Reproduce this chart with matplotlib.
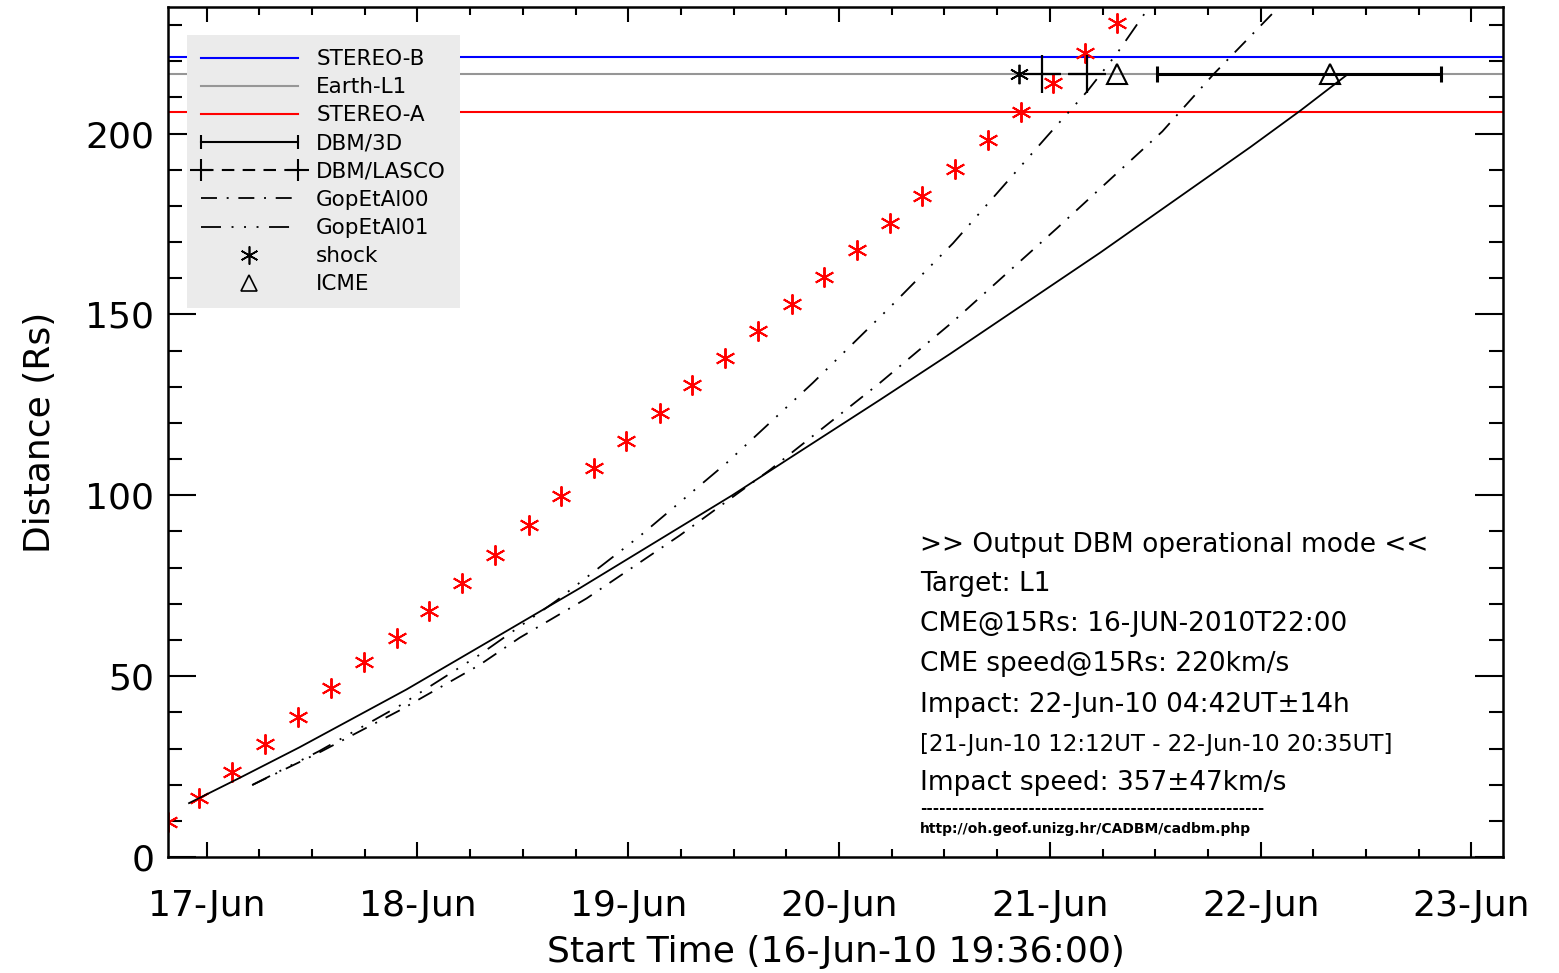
import numpy as np
import matplotlib
matplotlib.use('Agg')
import matplotlib.pyplot as plt
import matplotlib.dates as mdates
from matplotlib.ticker import MultipleLocator
from matplotlib.lines import Line2D
from matplotlib.legend_handler import HandlerLine2D
from datetime import datetime

plt.rcParams['font.family'] = ['DejaVu Sans']
plt.rcParams['lines.scale_dashes'] = False

# start time of the plot
t0 = mdates.date2num(datetime(2010, 6, 16, 19, 36))
def tt(h):
    return t0 + np.asarray(h, dtype=float) / 24.0

# target distances (Rs)
r_stb = 221.2
r_l1 = 216.4
r_sta = 205.9

# measured CME front (hours after start, Rs)
obs_h = [0.0, 3.53, 7.33, 11.02, 14.82, 18.55, 22.27, 26.03, 29.76, 33.48,
         37.25, 41.04, 44.77, 48.49, 52.18, 55.98, 59.71, 63.47, 67.19, 70.99,
         74.68, 78.41, 82.15, 85.89, 89.61, 93.34, 97.10, 100.79, 104.43, 108.05]
obs_r = [9.8, 16.2, 23.6, 31.2, 38.7, 46.8, 53.9, 60.5, 68.1, 75.7,
         83.5, 91.8, 99.7, 107.5, 114.9, 122.7, 130.4, 138.0, 145.3, 152.9,
         160.4, 167.7, 175.2, 182.7, 190.3, 198.1, 205.9, 214.0, 222.3, 230.6]

# DBM solution
dbm_h = [2.39, 8.09, 14.94, 27.13, 36.94, 46.86, 64.30, 70.46, 81.06, 89.04,
         106.14, 123.25, 128.95, 134.31]
dbm_r = [14.9, 21.8, 30.3, 46.3, 60.2, 74.3, 100.1, 109.8, 126.4, 139.1,
         167.1, 196.3, 206.4, 216.4]

# Gopalswamy et al. 2000
g00_h = [9.58, 17.22, 26.34, 35.46, 40.02, 47.66, 58.26, 68.52, 81.06, 89.27,
         101.24, 113.21, 119.03, 126.67]
g00_r = [19.9, 28.9, 40.5, 53.1, 60.6, 71.5, 88.9, 107.0, 131.1, 147.8,
         173.9, 200.6, 216.4, 235.5]

# Gopalswamy et al. 2001
g01_h = [9.58, 17.22, 26.34, 35.46, 44.24, 53.70, 63.62, 73.42, 82.20, 89.38,
         100.10, 104.66, 108.08, 111.85]
g01_r = [19.9, 29.3, 41.8, 55.9, 70.9, 88.7, 109.0, 131.1, 152.0, 169.7,
         199.3, 211.7, 222.3, 235.5]

# arrivals at L1
shock_h = [96.91]
icme_h = [108.05, 132.29]
lasco_h = [99.53, 104.66]
impact_h = 129.1        # 22-Jun-10 04:42
impact_lo = 112.6       # 21-Jun-10 12:12
impact_hi = 144.98      # 22-Jun-10 20:35

fig = plt.figure(figsize=(15.59, 9.73), dpi=100)
ax = fig.add_axes([0.1078, 0.1192, 0.8563, 0.8736])

ax.axhline(r_stb, color='#0000ff', lw=1.5)
ax.axhline(r_l1, color='#969696', lw=1.5)
ax.axhline(r_sta, color='#ff0000', lw=1.5)

ast = (6, 2, 0)
ax.plot(tt(obs_h), obs_r, ls='none', marker=ast, ms=14.5, mew=1.4, color='#ff0000')

ax.plot(tt(dbm_h), dbm_r, color='k', lw=1.3)
dd1 = (0, (11.5, 7.0, 1.4, 7.0))
dd3 = (0, (14.4, 7.6, 1.4, 7.6, 1.4, 7.6, 1.4, 7.6))
ax.plot(tt(g00_h), g00_r, color='k', lw=1.3, ls=dd1)
ax.plot(tt(g01_h), g01_r, color='k', lw=1.3, ls=dd3)

ax.errorbar(tt([impact_h]), [r_l1],
            xerr=[[(impact_h - impact_lo) / 24.0], [(impact_hi - impact_h) / 24.0]],
            fmt='none', ecolor='k', elinewidth=2.2, capsize=5.5, capthick=2.2)
ax.plot(tt(lasco_h), [r_l1, r_l1], color='k', lw=1.5, ls=(0, (13, 6.5)),
        marker='+', ms=27, mew=1.6)
ax.plot(tt(shock_h), [r_l1], ls='none', marker=ast, ms=14, mew=1.3, color='k')
ax.plot(tt(icme_h), [r_l1] * len(icme_h), ls='none', marker='^', ms=15,
        mew=1.5, mfc='none', mec='k')

ax.set_xlim(tt(0), tt(152))
ax.set_ylim(0, 235)

ax.xaxis.set_major_locator(mdates.DayLocator())
ax.xaxis.set_minor_locator(mdates.HourLocator(byhour=[6, 12, 18]))
ax.xaxis.set_major_formatter(mdates.DateFormatter('%d-%b'))
ax.yaxis.set_major_locator(MultipleLocator(50))
ax.yaxis.set_minor_locator(MultipleLocator(10))

for s in ax.spines.values():
    s.set_linewidth(1.8)
ax.tick_params(axis='x', which='both', direction='in', top=True, width=1.5,
               labelsize=26, pad=23)
ax.tick_params(axis='x', which='major', length=11)
ax.tick_params(axis='x', which='minor', length=6)
ax.tick_params(axis='y', which='both', direction='in', right=True, width=1.5,
               labelsize=26, pad=10)
ax.tick_params(axis='y', which='major', length=20)
ax.tick_params(axis='y', which='minor', length=10)

ax.set_xlabel('Start Time (16-Jun-10 19:36:00)', fontsize=26, labelpad=9)
ax.set_ylabel('Distance (Rs)', fontsize=26, labelpad=20)

# legend
h_stb = Line2D([], [], color='#0000ff', lw=1.5)
h_l1 = Line2D([], [], color='#969696', lw=1.5)
h_sta = Line2D([], [], color='#ff0000', lw=1.5)
h_3d = Line2D([], [], color='k', lw=1.5, marker='|', ms=10, mew=1.5)
h_lasco = Line2D([], [], color='k', lw=1.5, ls=(0, (9, 6)), marker='+', ms=16, mew=1.5)
h_g00 = Line2D([], [], color='k', lw=1.3, ls=dd1)
h_g01 = Line2D([], [], color='k', lw=1.3, ls=dd3)
h_shock = Line2D([], [], ls='none', marker=ast, ms=13, mew=1.2, color='k')
h_icme = Line2D([], [], ls='none', marker='^', ms=12, mew=1.2, mfc='none', mec='k')
hm = {h_3d: HandlerLine2D(numpoints=2, marker_pad=0),
      h_lasco: HandlerLine2D(numpoints=2, marker_pad=0),
      h_shock: HandlerLine2D(numpoints=1),
      h_icme: HandlerLine2D(numpoints=1)}
leg = ax.legend([h_stb, h_l1, h_sta, h_3d, h_lasco, h_g00, h_g01, h_shock, h_icme],
                ['STEREO-B', 'Earth-L1', 'STEREO-A', 'DBM/3D', 'DBM/LASCO',
                 'GopEtAl00', 'GopEtAl01', 'shock', 'ICME'],
                handler_map=hm, loc='upper left', bbox_to_anchor=(0.0142, 0.967),
                borderaxespad=0, fontsize=15.5, handlelength=4.5, handletextpad=0.85,
                labelspacing=0.38, borderpad=0.65, fancybox=False, framealpha=1,
                facecolor='#ebebeb', edgecolor='#ebebeb')
leg.get_frame().set_linewidth(0)

# output text block
tx = 0.5633
ax.text(tx, 0.3588, '>> Output DBM operational mode <<', transform=ax.transAxes, fontsize=19)
ax.text(tx, 0.3129, 'Target: L1', transform=ax.transAxes, fontsize=19)
ax.text(tx, 0.2659, 'CME@15Rs: 16-JUN-2010T22:00', transform=ax.transAxes, fontsize=19)
ax.text(tx, 0.2188, 'CME speed@15Rs: 220km/s', transform=ax.transAxes, fontsize=19)
ax.text(tx, 0.1706, 'Impact: 22-Jun-10 04:42UT\u00b114h', transform=ax.transAxes, fontsize=19)
ax.text(tx, 0.1247, '[21-Jun-10 12:12UT - 22-Jun-10 20:35UT]', transform=ax.transAxes, fontsize=16.5)
ax.text(tx, 0.0788, 'Impact speed: 357\u00b147km/s', transform=ax.transAxes, fontsize=19)
ax.text(tx, 0.0565, '-' * 54, transform=ax.transAxes, fontsize=11, fontweight='bold',
        va='center')
ax.text(tx, 0.0282, 'http://oh.geof.unizg.hr/CADBM/cadbm.php', transform=ax.transAxes,
        fontsize=10, fontweight='bold')

fig.savefig('out.png', dpi=100)
